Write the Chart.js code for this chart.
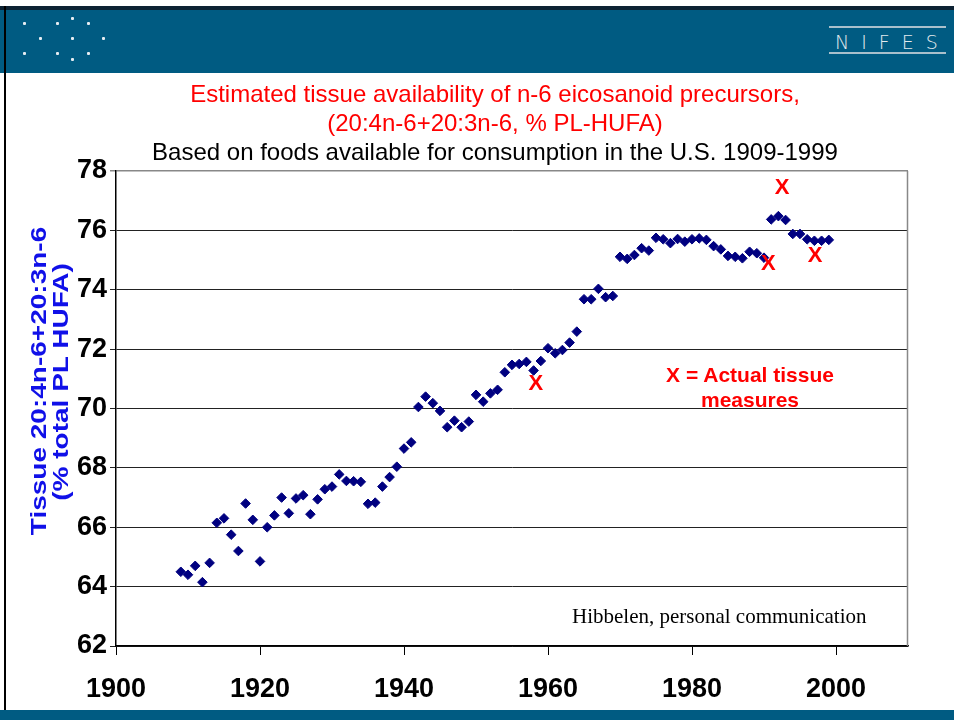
<!DOCTYPE html>
<html><head><meta charset="utf-8">
<script src="https://cdn.jsdelivr.net/npm/chart.js@4.4.1/dist/chart.umd.min.js"></script>
<style>
html,body{margin:0;padding:0;background:#fff;width:954px;height:720px;overflow:hidden;position:relative;font-family:'Liberation Sans',Arial,sans-serif;}
#topline{position:absolute;left:0;top:6px;width:954px;height:4px;background:#0d2233;}
#header{position:absolute;left:0;top:10px;width:954px;height:63px;background:#005b82;}
#leftline{position:absolute;left:4px;top:6px;width:2px;height:714px;background:#000;}
#footer{position:absolute;left:0;top:710px;width:954px;height:10px;background:#005b82;}
.dot{position:absolute;width:3px;height:3px;background:#e6edf2;border-radius:1px;}
#nifes{position:absolute;left:829px;top:26px;width:117px;height:28px;border-top:2px solid #a9c0cc;border-bottom:2px solid #a9c0cc;color:#e3eaee;font:200 19px 'DejaVu Sans',sans-serif;letter-spacing:12px;line-height:28px;padding-left:6px;box-sizing:border-box;white-space:nowrap;}
#chartwrap{position:absolute;left:0;top:0;width:954px;height:720px;}
.txt{position:absolute;white-space:nowrap;}
#titles{position:absolute;left:0;top:79px;width:990px;text-align:center;font:24px 'Liberation Sans',Arial,sans-serif;line-height:29px;white-space:nowrap;}
.ytitle{position:absolute;white-space:nowrap;transform:translate(-50%,-50%) rotate(-90deg) scaleY(0.8);color:#1010e8;font:bold 28px 'Liberation Sans',Arial,sans-serif;line-height:28px;}
</style></head>
<body>
<div id="topline"></div>
<div id="header"></div>
<div id="leftline"></div>
<div id="footer"></div>
<div class="dot" style="left:23px;top:22px"></div>
<div class="dot" style="left:56px;top:22px"></div>
<div class="dot" style="left:71px;top:17px"></div>
<div class="dot" style="left:87px;top:22px"></div>
<div class="dot" style="left:39px;top:37px"></div>
<div class="dot" style="left:71px;top:37px"></div>
<div class="dot" style="left:102px;top:37px"></div>
<div class="dot" style="left:23px;top:52px"></div>
<div class="dot" style="left:56px;top:52px"></div>
<div class="dot" style="left:71px;top:58px"></div>
<div class="dot" style="left:87px;top:52px"></div>
<div id="nifes">NIFES</div>
<div id="chartwrap"><canvas id="c" width="954" height="720"></canvas></div>
<div id="titles"><span style="color:#ff0000" id="t1"></span><br><span style="color:#ff0000" id="t2"></span><br><span style="color:#000" id="t3"></span></div>
<div class="ytitle" style="left:39px;top:381px">Tissue 20:4n-6+20:3n-6</div>
<div class="ytitle" style="left:61px;top:382px">(% total PL HUFA)</div>
<div class="txt" style="left:650px;top:362px;width:200px;text-align:center;color:#ff0000;font:bold 21px 'Liberation Sans',Arial,sans-serif;line-height:25px;">X = Actual tissue<br>measures</div>
<div class="txt" style="left:572px;top:604px;color:#000;font:21px 'Liberation Serif','Times New Roman',serif;">Hibbelen, personal communication</div>
<script>
// ---- data ----
const years = [1909,1910,1911,1912,1913,1914,1915,1916,1917,1918,1919,1920,1921,1922,1923,1924,1925,1926,1927,1928,1929,1930,1931,1932,1933,1934,1935,1936,1937,1938,1939,1940,1941,1942,1943,1944,1945,1946,1947,1948,1949,1950,1951,1952,1953,1954,1955,1956,1957,1958,1959,1960,1961,1962,1963,1964,1965,1966,1967,1968,1969,1970,1971,1972,1973,1974,1975,1976,1977,1978,1979,1980,1981,1982,1983,1984,1985,1986,1987,1988,1989,1990,1991,1992,1993,1994,1995,1996,1997,1998,1999];
const estimated = [64.5,64.4,64.7,64.15,64.8,66.15,66.3,65.75,65.2,66.8,66.25,64.85,66.0,66.4,67.0,66.47,66.97,67.08,66.44,66.94,67.28,67.37,67.78,67.56,67.55,67.53,66.79,66.83,67.37,67.69,68.04,68.65,68.86,70.05,70.4,70.18,69.92,69.37,69.59,69.37,69.56,70.46,70.23,70.51,70.63,71.22,71.47,71.5,71.57,71.28,71.6,72.03,71.86,71.97,72.22,72.59,73.68,73.68,74.03,73.75,73.79,75.11,75.04,75.17,75.4,75.32,75.75,75.7,75.57,75.71,75.62,75.7,75.73,75.68,75.47,75.36,75.14,75.11,75.06,75.28,75.23,75.08,76.37,76.48,76.35,75.88,75.88,75.7,75.65,75.65,75.68];
const measuredYears = [1958.3,1990.6,1992.5,1997.1];
const measuredValues = [70.86,74.91,77.47,75.17];
const xTickValues = [1900,1920,1940,1960,1980,2000];
const yTickValues = [62,64,66,68,70,72,74,76,78];
const titleLines = ['Estimated tissue availability of n-6 eicosanoid precursors,','(20:4n-6+20:3n-6, % PL-HUFA)'];
const subtitleText = 'Based on foods available for consumption in the U.S. 1909-1999';

document.getElementById('t1').textContent = titleLines[0];
document.getElementById('t2').textContent = titleLines[1];
document.getElementById('t3').textContent = subtitleText;

const estPoints = years.map((y,i)=>({x:y,y:estimated[i]}));
const measPoints = measuredYears.map((y,i)=>({x:y,y:measuredValues[i]}));

const xMarkPlugin = {
  id:'xMarks',
  afterDatasetsDraw(chart){
    const meta = chart.getDatasetMeta(1);
    const ctx = chart.ctx;
    ctx.save();
    ctx.fillStyle = '#ff0000';
    ctx.font = "bold 22px 'Liberation Sans', Arial, sans-serif";
    ctx.textAlign = 'center';
    ctx.textBaseline = 'middle';
    meta.data.forEach(el=>{ ctx.fillText('X', el.x, el.y+1); });
    ctx.restore();
  }
};
const framePlugin = {
  id:'frame',
  afterDraw(chart){
    const a = chart.chartArea, ctx = chart.ctx;
    ctx.save();
    ctx.strokeStyle = '#888';
    ctx.lineWidth = 1.5;
    ctx.beginPath();
    ctx.moveTo(a.right-0.5, a.top);
    ctx.lineTo(a.right-0.5, a.bottom);
    ctx.stroke();
    ctx.restore();
  }
};

const tickFont = {family:"'Liberation Sans',Arial,sans-serif", size:27, weight:'bold'};

new Chart(document.getElementById('c'), {
  type:'scatter',
  data:{datasets:[
    {label:'Estimated', data:estPoints, pointStyle:'rectRot', pointRadius:4.8, backgroundColor:'#000080', borderColor:'#000080', borderWidth:1},
    {label:'Actual tissue measures', data:measPoints, pointRadius:0, backgroundColor:'rgba(0,0,0,0)', borderColor:'rgba(0,0,0,0)'}
  ]},
  options:{
    responsive:false, animation:false, events:[],
    layout:{padding:{left:40,right:46,top:171,bottom:0}},
    plugins:{legend:{display:false}, tooltip:{enabled:false}, title:{display:false}},
    scales:{
      x:{type:'linear', min:1900, max:2010,
        afterBuildTicks:s=>{ s.ticks = xTickValues.map(v=>({value:v})); },
        afterFit:s=>{ s.height = 74; },
        ticks:{callback:v=>String(v), color:'#000', font:tickFont, padding:18, maxRotation:0},
        grid:{drawOnChartArea:false, color:'#000', tickLength:9},
        border:{color:'#000', width:1.5}},
      y:{type:'linear', min:62, max:78,
        afterBuildTicks:s=>{ s.ticks = yTickValues.map(v=>({value:v})); },
        afterFit:s=>{ s.width = 76; },
        ticks:{callback:v=>String(v), color:'#000', font:tickFont, padding:3},
        grid:{color:c=> (c.tick && c.tick.value===78) ? '#888' : '#222', lineWidth:c=> (c.tick && c.tick.value===78) ? 1.5 : 1, tickLength:6},
        border:{color:'#000', width:1.5}}
    }
  },
  plugins:[xMarkPlugin, framePlugin]
});
</script>
</body></html>
